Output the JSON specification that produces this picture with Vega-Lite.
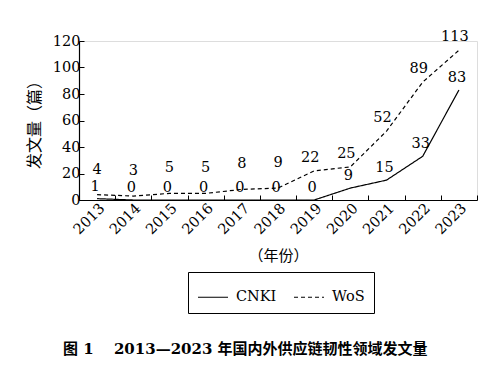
{
  "$schema": "https://vega.github.io/schema/vega-lite/v6.json",
  "width": 398,
  "height": 159,
  "autosize": {"type": "none"},
  "padding": {"left": 79, "top": 41, "right": 23, "bottom": 179},
  "background": "white",
  "data": {"values": [
    {"year": 2013, "source": "CNKI", "value": 1},
    {"year": 2014, "source": "CNKI", "value": 0},
    {"year": 2015, "source": "CNKI", "value": 0},
    {"year": 2016, "source": "CNKI", "value": 0},
    {"year": 2017, "source": "CNKI", "value": 0},
    {"year": 2018, "source": "CNKI", "value": 0},
    {"year": 2019, "source": "CNKI", "value": 0},
    {"year": 2020, "source": "CNKI", "value": 9},
    {"year": 2021, "source": "CNKI", "value": 15},
    {"year": 2022, "source": "CNKI", "value": 33},
    {"year": 2023, "source": "CNKI", "value": 83},
    {"year": 2013, "source": "WoS", "value": 4},
    {"year": 2014, "source": "WoS", "value": 3},
    {"year": 2015, "source": "WoS", "value": 5},
    {"year": 2016, "source": "WoS", "value": 5},
    {"year": 2017, "source": "WoS", "value": 8},
    {"year": 2018, "source": "WoS", "value": 9},
    {"year": 2019, "source": "WoS", "value": 22},
    {"year": 2020, "source": "WoS", "value": 25},
    {"year": 2021, "source": "WoS", "value": 52},
    {"year": 2022, "source": "WoS", "value": 89},
    {"year": 2023, "source": "WoS", "value": 113}
  ]},
  "title": {
    "text": "图 1　 2013—2023 年国内外供应链韧性领域发文量",
    "orient": "bottom",
    "anchor": "start",
    "frame": "group",
    "dx": -16,
    "offset": 28,
    "font": "DejaVu Serif, Noto Sans CJK SC",
    "fontSize": 15,
    "fontWeight": "bold",
    "color": "black"
  },
  "encoding": {
    "x": {
      "field": "year", "type": "quantitative",
      "scale": {"domain": [2012.5, 2023.5], "nice": false, "zero": false},
      "axis": {
        "title": "（年份）",
        "titleFont": "Noto Sans CJK SC",
        "titleFontWeight": "normal",
        "titleFontSize": 15,
        "titleColor": "black",
        "titlePadding": 12,
        "values": [2012.5, 2013.5, 2014.5, 2015.5, 2016.5, 2017.5, 2018.5, 2019.5, 2020.5, 2021.5, 2022.5, 2023.5],
        "labelExpr": "datum.value < 2013 ? '' : format(datum.value - 0.5, 'd')",
        "labelOffset": -18,
        "labelAngle": -45,
        "labelFont": "DejaVu Serif",
        "labelFontSize": 14.5,
        "labelColor": "black",
        "labelPadding": 6,
        "tickSize": -5,
        "tickColor": "black",
        "domainColor": "black",
        "domainWidth": 1.2,
        "grid": false,
        "labelOverlap": false
      }
    },
    "y": {
      "field": "value", "type": "quantitative",
      "scale": {"domain": [0, 120], "nice": false},
      "axis": {
        "title": "发文量（篇）",
        "titleFont": "Noto Sans CJK SC",
        "titleFontWeight": "normal",
        "titleFontSize": 16,
        "titleColor": "black",
        "titlePadding": 10,
        "values": [0, 20, 40, 60, 80, 100, 120],
        "labelFont": "DejaVu Serif",
        "labelFontSize": 14.5,
        "labelColor": "black",
        "labelPadding": 4,
        "tickSize": -5,
        "tickColor": "black",
        "domainColor": "black",
        "domainWidth": 1.2,
        "grid": false
      }
    }
  },
  "layer": [
    {
      "mark": {"type": "line", "color": "black", "strokeWidth": 1.2},
      "encoding": {
        "strokeDash": {
          "field": "source", "type": "nominal",
          "scale": {"domain": ["CNKI", "WoS"], "range": [[1, 0], [4, 3]]},
          "legend": {
            "title": null,
            "orient": "none",
            "legendX": 109,
            "legendY": 231,
            "direction": "horizontal",
            "symbolType": "stroke",
            "symbolSize": 900,
            "symbolStrokeColor": "black",
            "symbolStrokeWidth": 1.2,
            "labelFont": "DejaVu Serif",
            "labelFontSize": 14.5,
            "labelColor": "black",
            "strokeColor": "black",
            "padding": 9,
            "columnPadding": 14,
            "labelOffset": 7
          }
        }
      }
    },
    {
      "transform": [{"filter": "datum.source == 'WoS' && datum.year <= 2018"}],
      "mark": {"type": "text", "dy": -25, "font": "DejaVu Serif", "fontSize": 14.5, "color": "black", "baseline": "middle"},
      "encoding": {"text": {"field": "value", "type": "quantitative"}}
    },
    {
      "transform": [{"filter": "datum.source == 'WoS' && datum.year > 2018"}],
      "mark": {"type": "text", "dy": -13, "dx": -4, "font": "DejaVu Serif", "fontSize": 14.5, "color": "black", "baseline": "middle"},
      "encoding": {"text": {"field": "value", "type": "quantitative"}}
    },
    {
      "transform": [{"filter": "datum.source == 'CNKI'"}],
      "mark": {"type": "text", "dy": -12, "dx": -2, "font": "DejaVu Serif", "fontSize": 14.5, "color": "black", "baseline": "middle"},
      "encoding": {"text": {"field": "value", "type": "quantitative"}}
    }
  ]
}
